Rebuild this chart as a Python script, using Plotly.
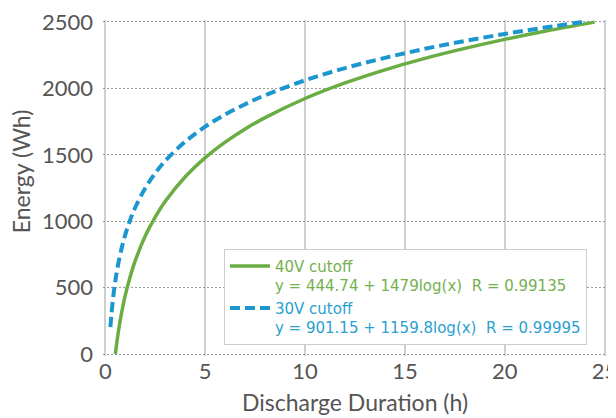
import plotly.graph_objects as go

# Data
x_40v = [0.5, 0.6, 0.8, 1, 1.25, 1.5, 2, 2.5, 3, 4, 5, 6, 7, 8, 10, 12, 14, 16, 18, 20, 22, 24.5]
y_40v = [0, 117, 301, 445, 588, 705, 890, 1033, 1150, 1335, 1479, 1596, 1695, 1780, 1924, 2041,
         2140, 2226, 2301, 2369, 2430, 2499]

x_30v = [0.25, 0.3, 0.4, 0.5, 0.6, 0.8, 1, 1.25, 1.5, 2, 2.5, 3, 4, 5, 6, 7, 8, 10, 12, 14, 16, 18, 20, 22, 24]
y_30v = [203, 295, 440, 552, 644, 789, 901, 1014, 1105, 1250, 1363, 1455, 1599, 1712, 1804, 1881,
         1949, 2061, 2153, 2230, 2298, 2357, 2410, 2458, 2502]

name_40v = "40V cutoff"
eq_40v = "y = 444.74 + 1479log(x)&nbsp; R = 0.99135"
name_30v = "30V cutoff"
eq_30v = "y = 901.15 + 1159.8log(x)&nbsp; R = 0.99995"

x_ticks = [0, 5, 10, 15, 20, 25]
y_ticks = [0, 500, 1000, 1500, 2000, 2500]

GREEN = "#6aad42"
BLUE = "#1c96cf"
GREEN_TXT = "#74b04e"
BLUE_TXT = "#2a9fd0"
FONT = "Lato"
LEG_FONT = "DejaVu Sans"
AX = "#555555"

fig = go.Figure()
fig.add_trace(go.Scatter(
    x=x_40v, y=y_40v, mode="lines",
    line=dict(color=GREEN, width=3.5, shape="spline"),
    name=f'<span style="color:{GREEN_TXT}">{name_40v}<br>{eq_40v}</span>',
))
fig.add_trace(go.Scatter(
    x=x_30v, y=y_30v, mode="lines",
    line=dict(color=BLUE, width=4, dash="10px,5px", shape="spline"),
    name=f'<span style="color:{BLUE_TXT}">{name_30v}<br>{eq_30v}</span>',
))

fig.update_layout(
    width=608, height=410,
    margin=dict(l=95, r=9, t=12, b=62, autoexpand=False),
    paper_bgcolor="white", plot_bgcolor="white",
    font=dict(family=FONT, color=AX),
    showlegend=True,
    legend=dict(
        x=0.240, y=0.319, xanchor="left", yanchor="top",
        bgcolor="white", bordercolor="#cccccc", borderwidth=1,
        font=dict(family=LEG_FONT, size=15),
        valign="top", itemwidth=40, tracegroupgap=2,
    ),
    xaxis=dict(
        range=[-0.12, 25.12], tickvals=x_ticks, ticktext=[str(v) for v in x_ticks],
        showgrid=True, gridcolor="#cfcfcf", gridwidth=1.5,
        zeroline=False, showline=False, ticklabeloverflow="allow", automargin=False,
        tickfont=dict(size=22, color=AX),
        title=dict(text="Discharge Duration (h)", font=dict(size=23, color=AX), standoff=11),
    ),
    yaxis=dict(
        range=[-15, 2515], tickvals=y_ticks, ticktext=[str(v) for v in y_ticks],
        showgrid=True, gridcolor="#9a9a9a", gridwidth=1, griddash="2px,2px",
        zeroline=False, showline=False, ticklabeloverflow="allow", automargin=False,
        tickfont=dict(size=22, color=AX), ticklabelstandoff=9,
    ),
    annotations=[dict(
        text="Energy (Wh)", textangle=-90, xref="paper", yref="paper",
        x=-(103 - 21) / 504, y=0.55, xanchor="center", yanchor="middle",
        showarrow=False, font=dict(size=23, color=AX, family=FONT),
    )],
)

fig.write_html("out.html")
